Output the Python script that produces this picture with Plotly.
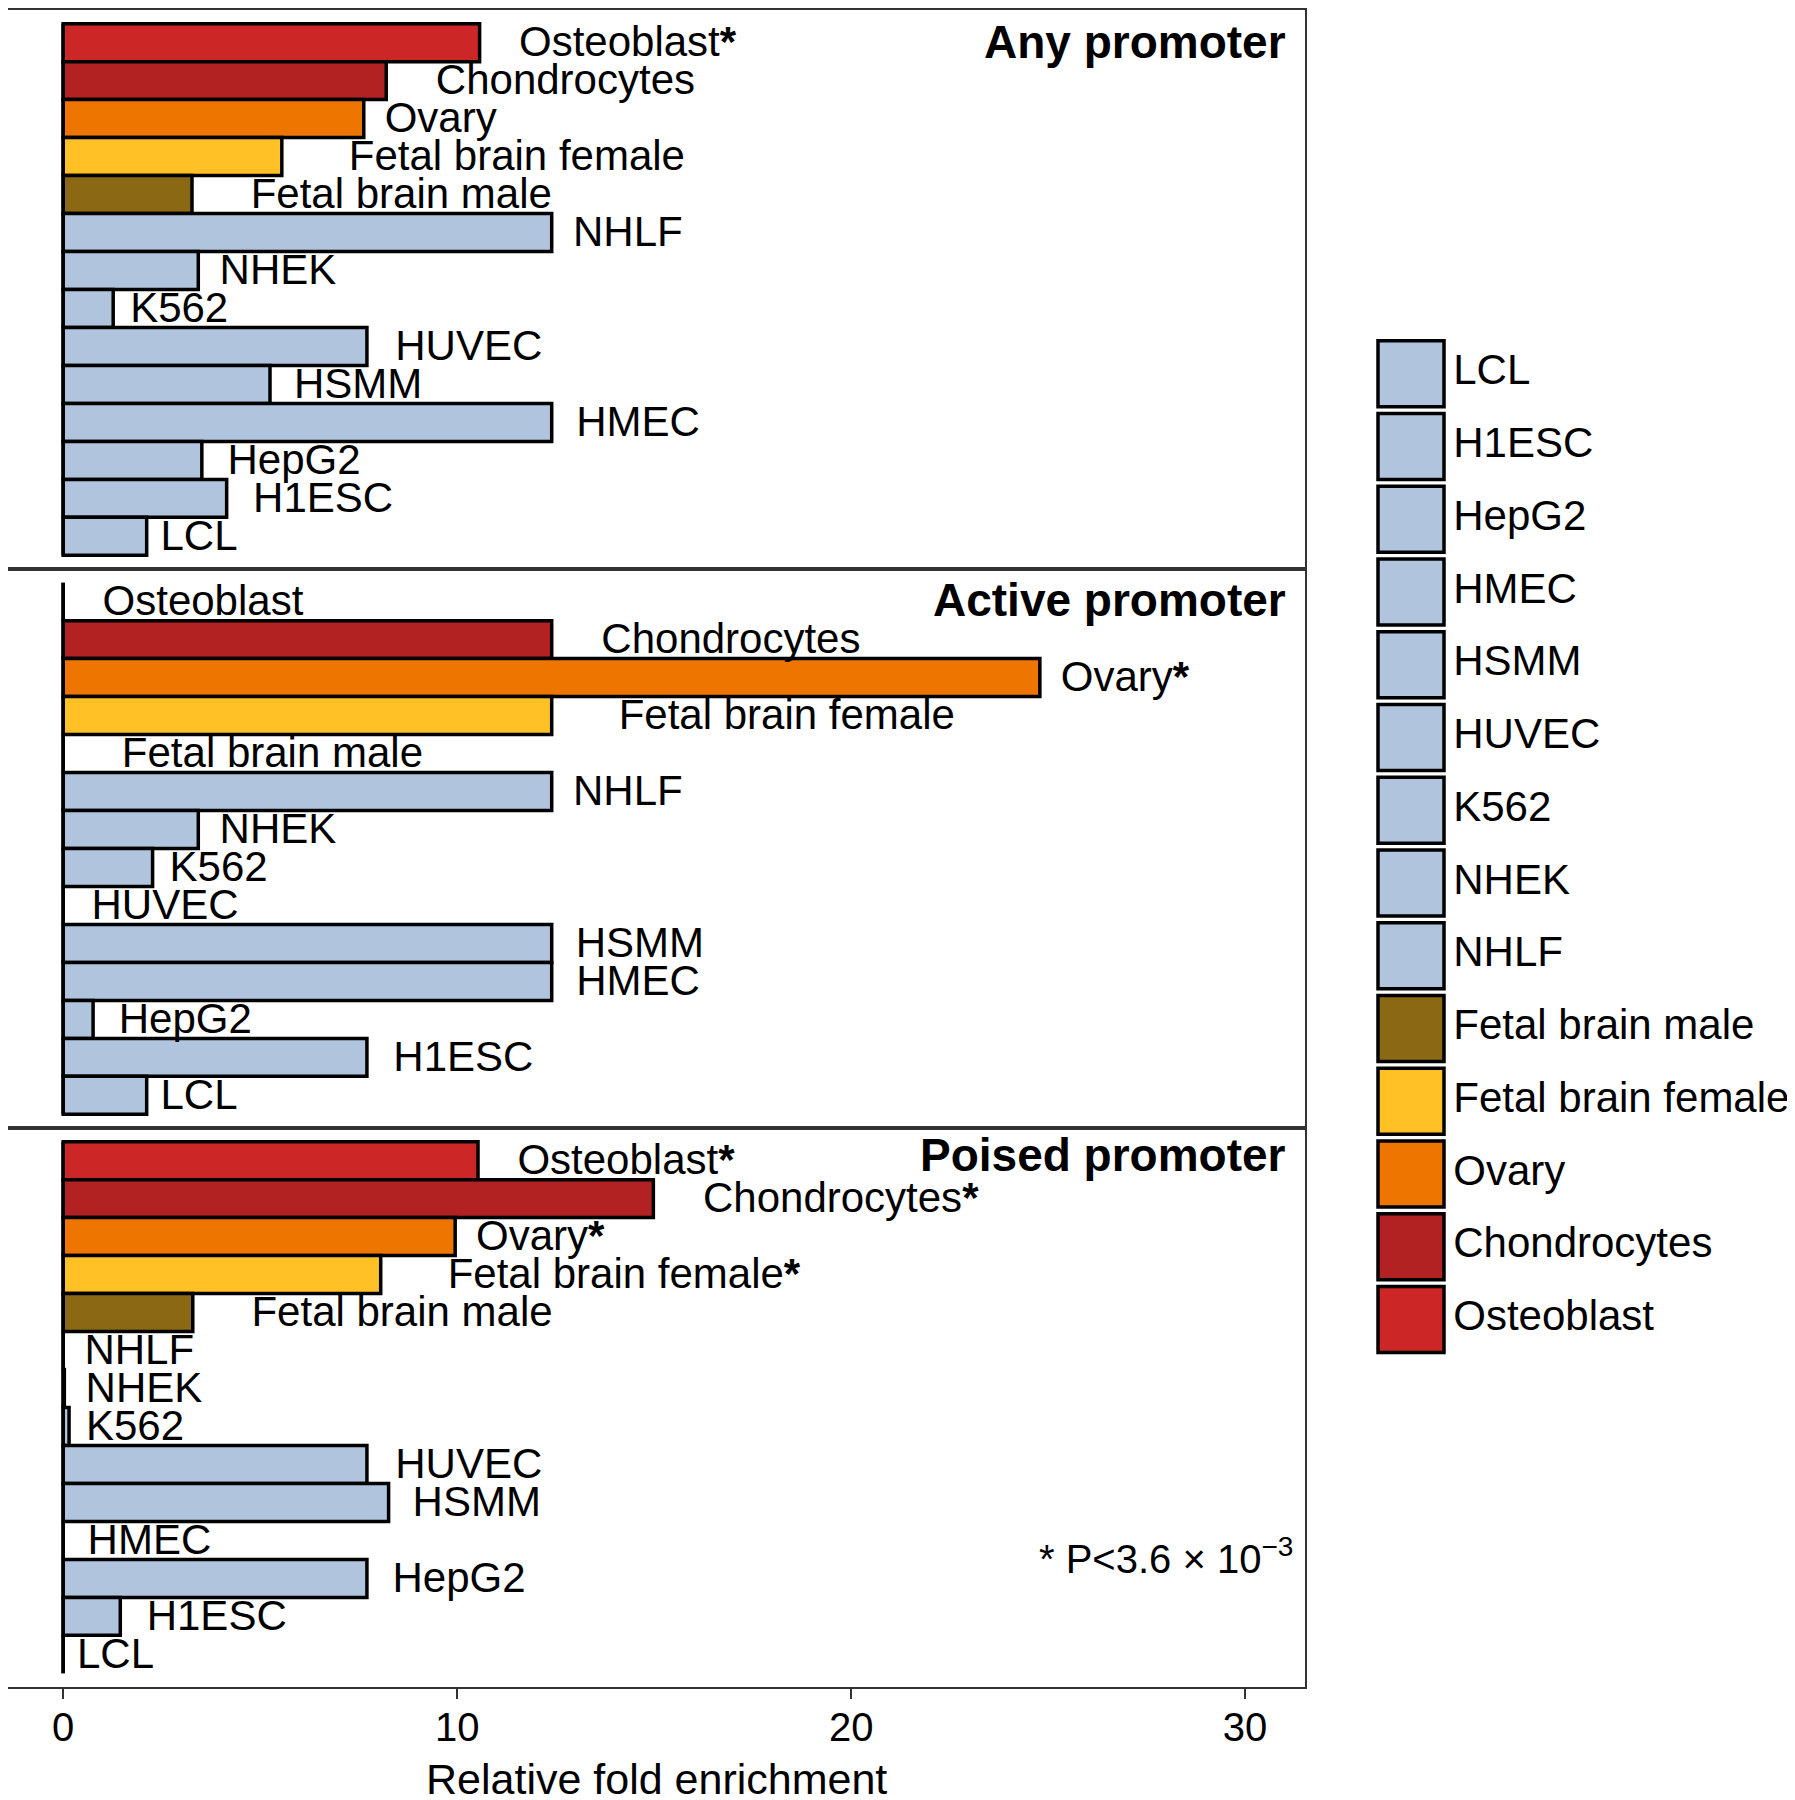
import plotly.graph_objects as go

# ---- data ----
cell_types = ["Osteoblast", "Chondrocytes", "Ovary", "Fetal brain female", "Fetal brain male",
              "NHLF", "NHEK", "K562", "HUVEC", "HSMM", "HMEC", "HepG2", "H1ESC", "LCL"]
panels = ["Any promoter", "Active promoter", "Poised promoter"]

any_promoter = [10.57, 8.2, 7.63, 5.55, 3.27, 12.4, 3.43, 1.27, 7.71, 5.25, 12.4, 3.52, 4.15, 2.12]
active_promoter = [0.0, 12.4, 24.79, 12.4, 0.0, 12.4, 3.43, 2.27, 0.0, 12.4, 12.4, 0.76, 7.71, 2.12]
poised_promoter = [10.53, 14.98, 9.95, 8.06, 3.29, 0.0, 0.03, 0.15, 7.71, 8.26, 0.0, 7.71, 1.45, 0.0]

any_signif = [True, False, False, False, False, False, False, False, False, False, False, False, False, False]
active_signif = [False, False, True, False, False, False, False, False, False, False, False, False, False, False]
poised_signif = [True, True, True, True, False, False, False, False, False, False, False, False, False, False]

legend_order = ["LCL", "H1ESC", "HepG2", "HMEC", "HSMM", "HUVEC", "K562", "NHEK", "NHLF",
                "Fetal brain male", "Fetal brain female", "Ovary", "Chondrocytes", "Osteoblast"]

x_ticks = [0, 10, 20, 30]
x_title = "Relative fold enrichment"
p_note = "* P<3.6 \u00d7 10<sup>\u22123</sup>"

# ---- styles ----
colors = {
    "Osteoblast": "#CD2626", "Chondrocytes": "#B22222", "Ovary": "#EE7600",
    "Fetal brain female": "#FFC125", "Fetal brain male": "#8B6914",
}
cell_color = "#B0C4DE"
# per-label horizontal gap (data units) between bar end and label start
label_gap = {"Osteoblast": 1.0, "Chondrocytes": 1.26, "Ovary": 0.53, "Fetal brain female": 1.7,
             "Fetal brain male": 1.49, "NHLF": 0.54, "NHEK": 0.54, "K562": 0.43, "HUVEC": 0.72,
             "HSMM": 0.61, "HMEC": 0.62, "HepG2": 0.65, "H1ESC": 0.67, "LCL": 0.35}
label_dy = -0.08   # labels sit slightly below row centre

FONT = "Liberation Sans, Arial, sans-serif"
LBL = 42
W, H = 1787, 1792          # page body has an 8px default margin
ML, MR, MT, MB = 0, 0, 0, 113
plot_w = W - ML - MR
main_right = 1297 / plot_w
legend_left = 1369 / plot_w

fig = go.Figure()

series = [any_promoter, active_promoter, poised_promoter]
signifs = [any_signif, active_signif, poised_signif]
ypos = {c: len(cell_types) - 1 - i for i, c in enumerate(cell_types)}

for p, (vals, sig) in enumerate(zip(series, signifs)):
    xa = "x" if p == 0 else f"x{p+1}"
    ya = "y" if p == 0 else f"y{p+1}"
    fig.add_trace(go.Bar(
        x=vals, y=[ypos[c] for c in cell_types], orientation="h", width=1.0,
        marker=dict(color=[colors.get(c, cell_color) for c in cell_types],
                    line=dict(color="black", width=3.5)),
        xaxis=xa, yaxis=ya, showlegend=False, hoverinfo="skip"))
    fig.add_trace(go.Scatter(
        x=[v + label_gap[c] for v, c in zip(vals, cell_types)],
        y=[ypos[c] + label_dy for c in cell_types],
        text=[c + ("<b>*</b>" if s else "") for c, s in zip(cell_types, sig)],
        mode="text", textposition="middle right",
        textfont=dict(family=FONT, size=LBL, color="black"),
        xaxis=xa, yaxis=ya, showlegend=False, hoverinfo="skip", cliponaxis=False))
    # baseline at zero (outline of zero-length bars)
    fig.add_shape(type="line", xref=xa, yref=ya, x0=0, x1=0, y0=-0.5, y1=len(cell_types) - 0.5,
                  line=dict(color="black", width=3.5), layer="above")
    fig.add_annotation(text=f"<b>{panels[p]}</b>", xref=f"{xa} domain", yref=f"{ya} domain",
                       x=0.987, y=[0.942, 0.944, 0.952][p], xanchor="right", yanchor="middle",
                       showarrow=False, font=dict(family=FONT, size=46, color="black"))

# legend as its own axes
fig.add_trace(go.Scatter(
    x=[0] * len(legend_order), y=list(range(len(legend_order))),
    mode="markers+text", text=legend_order, textposition="middle right",
    marker=dict(symbol="square", size=66, color=[colors.get(c, cell_color) for c in legend_order],
                line=dict(color="black", width=3.5)),
    textfont=dict(family=FONT, size=42, color="black"),
    xaxis="x4", yaxis="y4", showlegend=False, hoverinfo="skip", cliponaxis=False))

fig.add_annotation(text=p_note, xref="x3 domain", yref="y3 domain", x=0.992, y=0.235,
                   xanchor="right", yanchor="middle", showarrow=False,
                   font=dict(family=FONT, size=40, color="black"))
fig.add_annotation(text=x_title, xref="x3 domain", yref="paper", x=0.5, y=-0.0548,
                   xanchor="center", yanchor="middle", showarrow=False,
                   font=dict(family=FONT, size=43, color="black"))

ax_common = dict(range=[-1.40, 31.52], showgrid=False, zeroline=False, showline=True, mirror=True,
                 linecolor="#333333", linewidth=2, domain=[0, main_right])
yax_common = dict(range=[-0.86, len(cell_types) - 1 + 0.86], showgrid=False, zeroline=False,
                  showticklabels=False, ticks="", showline=True, mirror=True,
                  linecolor="#333333", linewidth=2)

fig.update_layout(
    width=W, height=H, margin=dict(l=ML, r=MR, t=MT, b=MB),
    paper_bgcolor="white", plot_bgcolor="white",
    font=dict(family=FONT, color="black"),
    xaxis=dict(**ax_common, anchor="y", showticklabels=False, ticks=""),
    xaxis2=dict(**ax_common, anchor="y2", showticklabels=False, ticks=""),
    xaxis3=dict(**ax_common, anchor="y3", tickvals=x_ticks, ticks="outside", ticklen=10,
                tickwidth=2, tickcolor="#333333", ticklabelstandoff=-6,
                tickfont=dict(family=FONT, size=40, color="black")),
    yaxis=dict(**yax_common, domain=[2 / 3, 1], anchor="x"),
    yaxis2=dict(**yax_common, domain=[1 / 3, 2 / 3], anchor="x2"),
    yaxis3=dict(**yax_common, domain=[0, 1 / 3], anchor="x3"),
    xaxis4=dict(domain=[legend_left, 1], range=[-34, 384], visible=False, anchor="y4"),
    yaxis4=dict(domain=[0, 1], range=[18.05, -5.0], visible=False, anchor="x4",
                autorange=False),
)

fig.write_html("out.html")
